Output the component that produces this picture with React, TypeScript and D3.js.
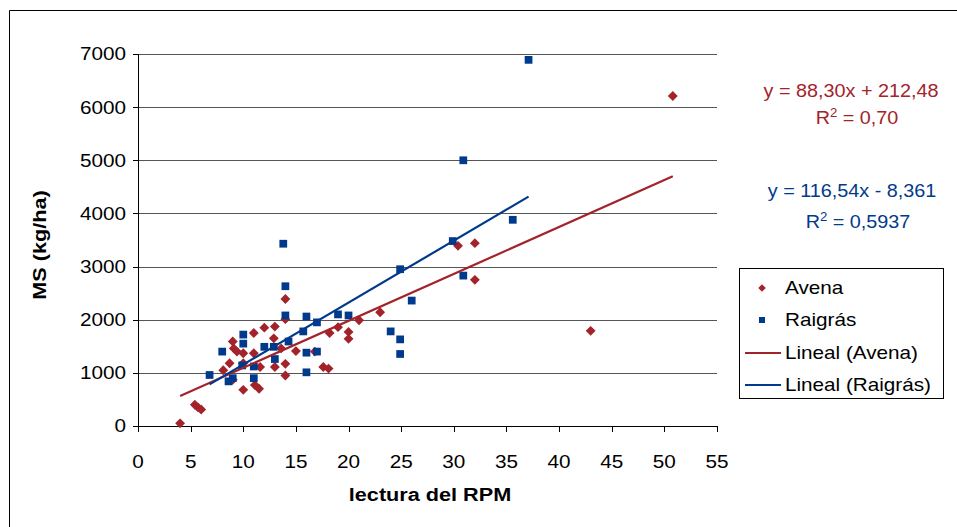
import React from "react";
import * as d3 from "d3";

const avenaX = [4.0, 5.4, 5.7, 6.0, 8.1, 8.7, 9.0, 9.0, 9.1, 9.4, 10.0, 10.0, 10.0, 11.0, 11.0, 11.1, 11.5, 11.6, 12.0, 12.9, 13.0, 13.0, 13.6, 14.0, 14.0, 14.0, 14.0, 15.0, 16.8, 17.6, 18.1, 18.2, 19.0, 20.0, 20.0, 21.0, 23.0, 30.4, 32.0, 32.0, 43.0, 50.8];
const avenaY = [50, 400, 350, 310, 1050, 1180, 870, 1590, 1460, 1400, 1370, 1180, 680, 1750, 1370, 770, 700, 1110, 1850, 1650, 1870, 1110, 1460, 2390, 2010, 1170, 950, 1410, 1400, 1110, 1080, 1750, 1860, 1770, 1640, 1990, 2140, 3390, 3440, 2750, 1790, 6210];

const raigrasX = [6.8, 8.0, 8.6, 9.0, 10.0, 10.0, 9.9, 11.0, 11.0, 12.0, 12.9, 13.0, 13.8, 14.0, 14.0, 14.3, 15.7, 16.0, 16.0, 16.0, 17.0, 17.0, 19.0, 20.0, 24.0, 24.9, 24.9, 24.9, 26.0, 29.9, 30.9, 30.9, 35.6, 37.1];
const raigrasY = [960, 1400, 840, 900, 1720, 1550, 1140, 1120, 900, 1490, 1490, 1260, 3430, 2630, 2080, 1590, 1780, 2060, 1380, 1010, 1950, 1400, 2100, 2080, 1780, 2950, 1630, 1355, 2360, 3480, 5000, 2830, 3880, 6890];

const avenaTrend = { slope: 88.3, intercept: 212.48 };
const raigrasTrend = { slope: 116.54, intercept: -8.361 };

const xTicks = [0, 5, 10, 15, 20, 25, 30, 35, 40, 45, 50, 55];
const yTicks = [0, 1000, 2000, 3000, 4000, 5000, 6000, 7000];

const RED = "#A3232B";
const BLUE = "#003A8C";
const FONT = "'Liberation Sans', Arial, sans-serif";

function T(props: { x: number; y: number; sx?: number; anchor?: string; size: number; bold?: boolean; fill?: string; rotate?: number; children: React.ReactNode }) {
  const { x, y, sx = 1.1, anchor = "start", size, bold, fill = "#000", rotate = 0, children } = props;
  return (
    <g transform={`translate(${x},${y}) rotate(${rotate}) scale(${sx},1)`}>
      <text x={0} y={0} dy="0.35em" textAnchor={anchor} fontSize={size} fontWeight={bold ? "bold" : "normal"} fill={fill}>
        {children}
      </text>
    </g>
  );
}

export default function App() {
  const W = 957, H = 527;
  const x = d3.scaleLinear().domain([0, 55]).range([138, 717]);
  const y = d3.scaleLinear().domain([0, 7000]).range([426, 54]);

  const trend = (xs: number[], t: { slope: number; intercept: number }) => {
    const x0 = d3.min(xs)!, x1 = d3.max(xs)!;
    return d3.line<[number, number]>().x((d) => x(d[0])).y((d) => y(d[1]))([
      [x0, t.slope * x0 + t.intercept],
      [x1, t.slope * x1 + t.intercept],
    ])!;
  };
  const diamond = d3.symbol().type(d3.symbolDiamond2).size(62)()!;
  const square = d3.symbol().type(d3.symbolSquare).size(60)()!;

  return (
    <svg width={W} height={H} style={{ position: "absolute", left: 0, top: 0, background: "#fff" }} fontFamily={FONT}>
      <rect x={0} y={0} width={W} height={H} fill="#fff" />
      <path d={`M9.5,${H + 5} V10.5 H${W + 5}`} fill="none" stroke="#000" strokeWidth={1} />
      {yTicks.slice(1).map((t) => (
        <line key={t} x1={138} x2={717} y1={Math.round(y(t)) + 0.5} y2={Math.round(y(t)) + 0.5} stroke="#555" strokeWidth={1} />
      ))}
      <line x1={138.5} x2={138.5} y1={y(7000)} y2={y(0)} stroke="#000" />
      <line x1={138} x2={717} y1={426.5} y2={426.5} stroke="#000" />
      {yTicks.map((t) => (
        <g key={t}>
          <line x1={133} x2={138} y1={Math.round(y(t)) + 0.5} y2={Math.round(y(t)) + 0.5} stroke="#000" />
          <T x={126} y={y(t)} anchor="end" size={18.5} sx={1.12}>{t}</T>
        </g>
      ))}
      {xTicks.map((t) => (
        <g key={t}>
          <line x1={Math.round(x(t)) + 0.5} x2={Math.round(x(t)) + 0.5} y1={426} y2={432} stroke="#000" />
          <T x={x(t)} y={462} anchor="middle" size={18.5} sx={1.12}>{t}</T>
        </g>
      ))}
      <T x={430} y={494} anchor="middle" size={19} bold sx={1.14}>lectura del RPM</T>
      <T x={39} y={245} anchor="middle" size={19} bold sx={1.14} rotate={-90}>MS (kg/ha)</T>

      {avenaX.map((v, i) => (
        <path key={"a" + i} d={diamond} transform={`translate(${x(v)},${y(avenaY[i])})`} fill={RED} />
      ))}
      {raigrasX.map((v, i) => (
        <path key={"r" + i} d={square} transform={`translate(${x(v)},${y(raigrasY[i])})`} fill={BLUE} />
      ))}
      <path d={trend(avenaX, avenaTrend)} stroke={RED} strokeWidth={2.2} fill="none" />
      <path d={trend(raigrasX, raigrasTrend)} stroke={BLUE} strokeWidth={2.2} fill="none" />

      <T x={851} y={91} anchor="middle" size={18} sx={1.1} fill={RED}>y = 88,30x + 212,48</T>
      <T x={857} y={118} anchor="middle" size={18} sx={1.1} fill={RED}>R<tspan dy="-7" fontSize={12}>2</tspan><tspan dy="7"> = 0,70</tspan></T>
      <T x={852} y={191} anchor="middle" size={18} sx={1.1} fill={BLUE}>y = 116,54x - 8,361</T>
      <T x={858} y={222} anchor="middle" size={18} sx={1.1} fill={BLUE}>R<tspan dy="-7" fontSize={12}>2</tspan><tspan dy="7"> = 0,5937</tspan></T>

      <rect x={739.5} y={268.5} width={204} height={130} fill="#fff" stroke="#000" />
      <path d={d3.symbol().type(d3.symbolDiamond2).size(36)()!} transform="translate(762,288)" fill={RED} />
      <T x={785} y={288} size={18} sx={1.15}>Avena</T>
      <path d={d3.symbol().type(d3.symbolSquare).size(36)()!} transform="translate(762,320)" fill={BLUE} />
      <T x={785} y={320} size={18} sx={1.15}>Raigrás</T>
      <line x1={745} x2={781} y1={353} y2={353} stroke={RED} strokeWidth={2.2} />
      <T x={785} y={353} size={18} sx={1.15}>Lineal (Avena)</T>
      <line x1={745} x2={781} y1={385} y2={385} stroke={BLUE} strokeWidth={2.2} />
      <T x={785} y={385} size={18} sx={1.15}>Lineal (Raigrás)</T>
    </svg>
  );
}
